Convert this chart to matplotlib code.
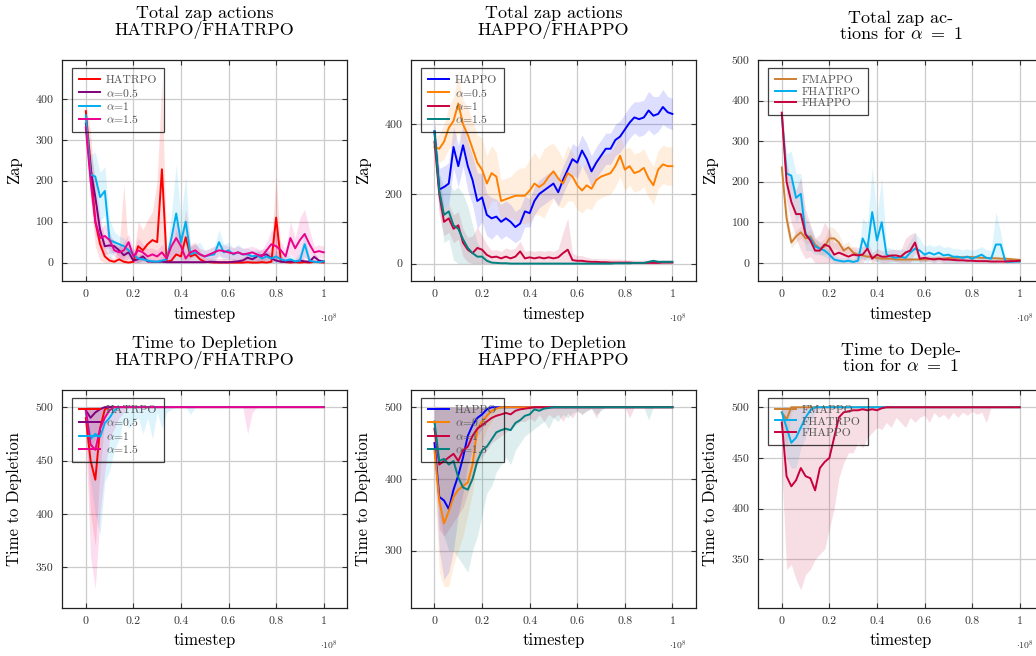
import matplotlib
matplotlib.use('Agg')
import matplotlib.pyplot as plt
import numpy as np

plt.rcParams['font.family'] = ['cmr10', 'DejaVu Serif']
plt.rcParams['mathtext.fontset'] = 'cm'
plt.rcParams['axes.formatter.use_mathtext'] = True

# timestep grid (x 1e8)
steps = np.round(np.arange(0, 1.0001, 0.02), 2)

# ---- total zap actions, HATRPO / FHATRPO ----
zap_hatrpo = [370, 240, 100, 45, 15, 5, 2, 8, 2, 0,
              2, 40, 30, 45, 55, 50, 228, 2, 5, 20,
              15, 62, 15, 20, 8, 2, 1, 0, 0, 0,
              0, 0, 0, 0, 1, 0, 0, 1, 0, 2,
              110, 3, 1, 0, 1, 0, 1, 0, 2, 1, 0]
zap_a05_trpo = [340, 230, 160, 80, 40, 42, 40, 30, 18, 25,
                5, 8, 15, 3, 2, 2, 2, 1, 1, 1,
                1, 1, 1, 1, 1, 1, 2, 2, 1, 1,
                1, 2, 3, 5, 12, 8, 15, 18, 20, 10,
                5, 2, 2, 3, 2, 5, 3, 2, 14, 5, 3]
zap_a1_trpo = [360, 215, 210, 160, 175, 55, 50, 45, 40, 30,
               20, 10, 8, 5, 3, 2, 5, 8, 60, 120,
               50, 100, 20, 25, 20, 15, 18, 20, 50, 25,
               30, 20, 25, 20, 20, 15, 18, 10, 15, 10,
               15, 8, 5, 8, 3, 5, 45, 5, 2, 1, 3]
zap_a15_trpo = [330, 200, 100, 60, 65, 55, 30, 25, 30, 50,
                15, 30, 25, 15, 20, 15, 25, 10, 40, 60,
                40, 10, 25, 30, 20, 15, 20, 25, 30, 28,
                25, 22, 25, 20, 22, 25, 20, 15, 30, 45,
                40, 30, 15, 60, 35, 55, 70, 45, 25, 28, 25]
sd_hatrpo = [20, 80, 60, 40, 20, 10, 8, 30, 190, 20,
             10, 60, 50, 60, 70, 150, 220, 20, 30, 60,
             40, 70, 30, 30, 20, 10, 10, 10, 10, 10,
             10, 10, 10, 10, 10, 10, 10, 10, 10, 40,
             105, 20, 5, 5, 5, 5, 5, 5, 5, 5, 5]
sd_a05_trpo = [20, 40, 50, 30, 20, 20, 15, 15, 15, 15,
               5, 8, 10, 3, 2, 2, 2, 2, 2, 2,
               2, 2, 2, 2, 2, 2, 3, 3, 2, 2,
               2, 3, 5, 8, 10, 10, 12, 15, 15, 10,
               8, 5, 5, 5, 5, 8, 5, 5, 10, 5, 5]
sd_a1_trpo = [20, 50, 60, 60, 60, 50, 25, 20, 20, 15,
              15, 10, 10, 8, 5, 5, 10, 20, 60, 120,
              60, 110, 20, 20, 30, 15, 15, 20, 30, 20,
              20, 15, 20, 15, 15, 15, 15, 10, 15, 10,
              15, 10, 10, 10, 8, 20, 30, 10, 5, 5, 5]
sd_a15_trpo = [20, 40, 30, 20, 30, 20, 15, 15, 20, 20,
               15, 30, 20, 20, 15, 15, 20, 15, 30, 40,
               30, 15, 15, 15, 15, 15, 15, 15, 15, 15,
               15, 15, 15, 15, 15, 15, 15, 15, 20, 35,
               30, 20, 15, 40, 25, 55, 60, 35, 15, 15, 15]

# ---- total zap actions, HAPPO / FHAPPO ----
zap_happo = [380, 213, 220, 230, 335, 280, 340, 280, 240, 180,
             190, 140, 130, 135, 120, 130, 120, 105, 115, 150,
             145, 180, 200, 210, 220, 230, 205, 240, 270, 300,
             290, 325, 300, 265, 290, 310, 330, 330, 355, 365,
             385, 405, 420, 415, 420, 440, 425, 430, 450, 435, 430]
zap_a05_ppo = [335, 330, 350, 390, 410, 460, 400, 370, 330, 290,
               270, 230, 260, 250, 180, 185, 190, 195, 195, 195,
               210, 230, 220, 230, 250, 265, 245, 230, 260, 250,
               225, 210, 225, 215, 240, 250, 255, 260, 280, 310,
               270, 280, 260, 265, 275, 245, 225, 270, 285, 280, 280]
zap_a1_ppo = [350, 200, 120, 130, 100, 110, 60, 40, 30, 45,
              40, 25, 18, 20, 15, 20, 15, 20, 35, 15,
              18, 15, 18, 15, 18, 15, 18, 30, 40, 10,
              8, 8, 6, 5, 5, 4, 4, 3, 3, 3,
              3, 3, 2, 2, 2, 2, 2, 2, 3, 3, 3]
zap_a15_ppo = [380, 210, 140, 150, 110, 100, 70, 45, 30, 20,
               20, 8, 3, 2, 1, 1, 0, 0, 0, 0,
               0, 0, 0, 0, 0, 0, 0, 0, 0, 0,
               0, 0, 0, 0, 0, 0, 0, 0, 1, 1,
               1, 1, 2, 2, 2, 5, 8, 5, 5, 5, 5]
sd_happo = [30, 60, 60, 60, 60, 60, 60, 70, 70, 80,
            70, 60, 60, 50, 50, 50, 50, 45, 45, 45,
            40, 40, 40, 40, 40, 40, 40, 40, 40, 45,
            45, 45, 45, 45, 45, 45, 45, 45, 45, 45,
            45, 45, 45, 50, 50, 55, 55, 50, 50, 45, 45]
sd_a05_ppo = [30, 40, 50, 60, 70, 80, 70, 80, 80, 80,
              90, 80, 80, 70, 60, 60, 60, 70, 80, 80,
              90, 90, 80, 100, 90, 80, 80, 70, 80, 70,
              70, 65, 65, 60, 60, 60, 60, 60, 60, 60,
              60, 55, 55, 55, 55, 55, 55, 55, 55, 55, 55]
sd_a1_ppo = [30, 60, 40, 40, 40, 40, 40, 35, 50, 60,
             40, 30, 20, 20, 20, 25, 25, 25, 30, 20,
             20, 20, 20, 20, 20, 20, 25, 60, 90, 20,
             15, 15, 12, 10, 10, 10, 10, 10, 10, 10,
             8, 8, 8, 8, 8, 8, 8, 8, 8, 8, 8]
sd_a15_ppo = [30, 50, 80, 80, 100, 120, 130, 120, 80, 40,
              20, 10, 3, 3, 3, 3, 3, 3, 3, 3,
              3, 3, 3, 3, 3, 3, 3, 3, 3, 3,
              3, 3, 3, 3, 3, 3, 3, 3, 3, 3,
              3, 3, 3, 3, 3, 5, 5, 5, 5, 5, 5]

# ---- total zap actions for alpha = 1 ----
zap_fmappo = [235, 110, 50, 65, 75, 60, 65, 45, 35, 40,
              60, 60, 50, 30, 38, 25, 20, 18, 15, 15,
              12, 10, 10, 10, 8, 8, 8, 8, 8, 8,
              8, 9, 10, 10, 10, 12, 12, 12, 14, 14,
              14, 13, 12, 12, 11, 11, 10, 10, 9, 8, 7]
zap_fhatrpo = [365, 220, 215, 160, 170, 70, 60, 40, 35, 30,
               20, 8, 5, 3, 5, 2, 5, 60, 35, 125,
               55, 100, 20, 15, 12, 15, 12, 25, 35, 30,
               20, 25, 20, 25, 18, 20, 15, 15, 12, 15,
               10, 15, 20, 12, 10, 45, 45, 3, 2, 3, 3]
zap_fhappo = [370, 200, 150, 120, 120, 70, 55, 30, 30, 45,
              40, 20, 25, 20, 15, 20, 18, 20, 35, 10,
              20, 15, 15, 18, 18, 15, 25, 30, 50, 10,
              12, 10, 8, 10, 8, 8, 7, 6, 6, 5,
              5, 4, 4, 4, 3, 3, 3, 3, 4, 4, 5]
sd_fmappo = [20, 30, 15, 15, 15, 15, 15, 15, 15, 20,
             30, 25, 20, 15, 15, 10, 10, 8, 8, 8,
             5, 5, 5, 5, 5, 5, 5, 5, 5, 5,
             5, 5, 5, 5, 5, 5, 5, 5, 5, 5,
             5, 5, 5, 5, 5, 5, 5, 5, 5, 5, 5]
sd_fhatrpo = [20, 50, 60, 60, 50, 40, 30, 20, 15, 15,
              10, 10, 8, 8, 8, 8, 10, 50, 60, 110,
              60, 110, 20, 20, 20, 20, 20, 30, 40, 30,
              20, 20, 20, 20, 20, 20, 20, 20, 20, 20,
              20, 20, 20, 20, 20, 80, 30, 5, 5, 5, 5]
sd_fhappo = [20, 50, 50, 60, 90, 60, 40, 30, 40, 55,
             40, 30, 25, 20, 20, 20, 20, 20, 20, 15,
             15, 15, 15, 15, 15, 15, 35, 40, 25, 10,
             8, 8, 8, 8, 8, 8, 8, 8, 8, 8,
             5, 5, 5, 5, 5, 5, 5, 5, 5, 5, 5]

# ---- time to depletion, HATRPO / FHATRPO ----
dep_hatrpo = [490, 450, 432, 480, 498] + [500] * 46
dep_a05_trpo = [497, 490, 495, 498] + [500] * 47
dep_a1_trpo = [495, 470, 475, 472, 485, 490, 497] + [500] * 44
dep_a15_trpo = [498, 465, 460, 480, 490, 497] + [500] * 45
lo_hatrpo = [480, 400, 370, 440, 490] + [500] * 46
lo_a05_trpo = [490, 460, 470, 480, 495] + [500] * 46
lo_a1_trpo = [480, 430, 400, 380, 430, 440, 460, 470, 490, 480,
              485, 490, 475, 490, 470, 495, 480, 495, 498, 500,
              500, 500, 493] + [500] * 28
lo_a15_trpo = [470, 360, 330, 400, 440, 470, 480, 490, 495] + [500] * 25 + [475, 495] + [500] * 15

# ---- time to depletion, HAPPO / FHAPPO ----
dep_happo = [450, 375, 370, 358, 385, 405, 430, 460, 475, 485, 490, 497] + [500] * 39
dep_a05_ppo = [440, 370, 338, 355, 375, 385, 390, 395, 420, 470, 480, 488, 495, 498] + [500] * 37
dep_a1_ppo = [470, 420, 425, 430, 435, 425, 440, 445, 460, 470,
              475, 480, 485, 488, 490, 492, 490, 495, 497, 498, 499] + [500] * 30
dep_a15_ppo = [480, 425, 428, 420, 425, 402, 388, 385, 400, 425,
               440, 445, 455, 465, 468, 470, 468, 478, 482, 488,
               490, 497, 495, 498, 499] + [500] * 26
lo_happo = [420, 300, 260, 270, 300, 350, 380, 420, 440, 460, 470, 485, 495] + [500] * 38
lo_a05_ppo = [400, 270, 250, 250, 280, 300, 320, 350, 380, 430, 450, 470, 480, 490, 495, 498] + [500] * 35
lo_a1_ppo = [440, 330, 320, 330, 340, 350, 360, 380, 400, 420,
             430, 440, 450, 455, 460, 465, 470, 475, 480, 480,
             485, 480, 490, 480, 490, 485, 490, 480, 492, 485,
             495, 490, 495, 498, 485, 498, 500, 500, 500, 500,
             500, 485, 500, 500, 500, 500, 500, 500, 500, 500, 500]
lo_a15_ppo = [460, 350, 320, 300, 300, 290, 280, 270, 300, 320,
              350, 380, 390, 410, 420, 430, 420, 440, 450, 460,
              465, 470, 475, 480, 470, 485, 480, 490, 485, 492,
              495, 490, 495, 498, 490, 495, 500, 500, 500, 500,
              500, 500, 500, 500, 500, 482, 500, 500, 500, 500, 500]

# ---- time to depletion for alpha = 1 ----
dep_fmappo = [495, 488] + [500] * 49
dep_fhatrpo = [495, 480, 465, 470, 480, 490, 497] + [500] * 44
dep_fhappo = [485, 432, 422, 428, 440, 432, 430, 418, 440, 446,
              450, 470, 490, 495, 496, 497, 497, 498, 497, 498,
              497, 499] + [500] * 29
lo_fmappo = [480, 460, 495] + [500] * 48
lo_fhatrpo = [480, 450, 440, 440, 460, 470, 485, 495] + [500] * 43
lo_fhappo = [440, 340, 345, 330, 320, 335, 340, 350, 355, 360,
             380, 400, 430, 445, 455, 455, 465, 460, 470, 475,
             480, 478, 485, 480, 490, 485, 480, 490, 485, 490,
             492, 485, 495, 490, 493, 488, 495, 490, 495, 492,
             496, 493, 495, 485, 500, 500, 500, 500, 500, 500, 500]

C_RED = '#ff0000'
C_PURPLE = '#800080'
C_CYAN = '#00aeef'
C_MAGENTA = '#ec008c'
C_BLUE = '#0000ff'
C_ORANGE = '#ff8000'
C_CRIMSON = '#c8003c'
C_TEAL = '#008080'
C_BRONZE = '#cd7f32'

fig = plt.figure(figsize=(10.36, 6.56), dpi=100)
W, H = 1036.0, 656.0


def make_axes(left_px, top_px, w_px, h_px):
    return fig.add_axes([left_px / W, 1 - (top_px + h_px) / H, w_px / W, h_px / H])


def draw_panel(ax, series, ylim, yticks, title, ylabel, title_off=21):
    x = steps
    for mean, lo, hi, color, label in series:
        ax.fill_between(x, lo, hi, color=color, alpha=0.13, lw=0)
    for mean, lo, hi, color, label in series:
        ax.plot(x, mean, color=color, lw=1.4, label=label)
    ax.set_xlim(-0.1, 1.1)
    ax.set_ylim(*ylim)
    ax.set_xticks([0, 0.2, 0.4, 0.6, 0.8, 1])
    ax.set_xticklabels(['0', '0.2', '0.4', '0.6', '0.8', '1'])
    ax.set_yticks(yticks)
    ax.set_yticklabels([str(t) for t in yticks])
    ax.grid(True, color='#cccccc', lw=0.9)
    ax.set_axisbelow(True)
    ax.tick_params(direction='in', length=3.5, width=0.8, top=True, right=True,
                   labelsize=8.5, labelcolor='#333333', color='#333333', pad=6)
    for sp in ax.spines.values():
        sp.set_linewidth(0.9)
        sp.set_color('#222222')
    ax.set_xlabel('timestep', fontsize=12)
    ax.xaxis.set_label_coords(0.5, -0.115)
    ax.set_ylabel(ylabel, fontsize=12)
    ax.yaxis.set_label_coords(-0.14, 0.5)
    ax.text(0.5, 1 + title_off / 221.0, title, transform=ax.transAxes,
            ha='center', va='bottom', fontsize=13, linespacing=1.0)
    ax.text(0.935, -0.17, r'$\cdot 10^8$', transform=ax.transAxes,
            ha='center', va='center', fontsize=7, color='#333333')
    leg = ax.legend(loc='upper left', bbox_to_anchor=(0.035, 0.964), borderaxespad=0,
                    fontsize=8.4, frameon=True, fancybox=False, facecolor='none',
                    edgecolor='#111111', handlelength=1.8, labelspacing=0.12,
                    borderpad=0.6, handletextpad=0.5)
    leg.get_frame().set_linewidth(0.9)
    for t in leg.get_texts():
        t.set_color('#555555')


def band(mean, sd):
    m = np.array(mean, float)
    s = np.array(sd, float)
    return m, np.clip(m - s, 0, None), m + s


def dep_band(mean, lo):
    return np.array(mean, float), np.array(lo, float), np.full(len(mean), 500.0)


top_row, bot_row = 60, 390
lefts = [62, 410.7, 758]
aw = 285.5

# top row
ax1 = make_axes(lefts[0], top_row, aw, 221)
draw_panel(ax1, [
    (*band(zap_hatrpo, sd_hatrpo), C_RED, 'HATRPO'),
    (*band(zap_a05_trpo, sd_a05_trpo), C_PURPLE, r'$\alpha$=0.5'),
    (*band(zap_a1_trpo, sd_a1_trpo), C_CYAN, r'$\alpha$=1'),
    (*band(zap_a15_trpo, sd_a15_trpo), C_MAGENTA, r'$\alpha$=1.5'),
], (-45, 495), [0, 100, 200, 300, 400], 'Total zap actions\nHATRPO/FHATRPO', 'Zap')

ax2 = make_axes(lefts[1], top_row, aw, 221)
draw_panel(ax2, [
    (*band(zap_happo, sd_happo), C_BLUE, 'HAPPO'),
    (*band(zap_a05_ppo, sd_a05_ppo), C_ORANGE, r'$\alpha$=0.5'),
    (*band(zap_a1_ppo, sd_a1_ppo), C_CRIMSON, r'$\alpha$=1'),
    (*band(zap_a15_ppo, sd_a15_ppo), C_TEAL, r'$\alpha$=1.5'),
], (-50, 585), [0, 200, 400], 'Total zap actions\nHAPPO/FHAPPO', 'Zap')

ax3 = make_axes(lefts[2], top_row, aw, 221)
draw_panel(ax3, [
    (*band(zap_fmappo, sd_fmappo), C_BRONZE, 'FMAPPO'),
    (*band(zap_fhatrpo, sd_fhatrpo), C_CYAN, 'FHATRPO'),
    (*band(zap_fhappo, sd_fhappo), C_CRIMSON, 'FHAPPO'),
], (-45, 500), [0, 100, 200, 300, 400, 500], 'Total zap ac-\n' + r'tions for $\alpha\ =\ 1$', 'Zap',
    title_off=18)

# bottom row
ax4 = make_axes(lefts[0], bot_row, aw, 218)
draw_panel(ax4, [
    (*dep_band(dep_hatrpo, lo_hatrpo), C_RED, 'HATRPO'),
    (*dep_band(dep_a05_trpo, lo_a05_trpo), C_PURPLE, r'$\alpha$=0.5'),
    (*dep_band(dep_a1_trpo, lo_a1_trpo), C_CYAN, r'$\alpha$=1'),
    (*dep_band(dep_a15_trpo, lo_a15_trpo), C_MAGENTA, r'$\alpha$=1.5'),
], (312, 516), [350, 400, 450, 500], 'Time to Depletion\nHATRPO/FHATRPO', 'Time to Depletion')

ax5 = make_axes(lefts[1], bot_row, aw, 218)
draw_panel(ax5, [
    (*dep_band(dep_happo, lo_happo), C_BLUE, 'HAPPO'),
    (*dep_band(dep_a05_ppo, lo_a05_ppo), C_ORANGE, r'$\alpha$=0.5'),
    (*dep_band(dep_a1_ppo, lo_a1_ppo), C_CRIMSON, r'$\alpha$=1'),
    (*dep_band(dep_a15_ppo, lo_a15_ppo), C_TEAL, r'$\alpha$=1.5'),
], (220, 524), [300, 400, 500], 'Time to Depletion\nHAPPO/FHAPPO', 'Time to Depletion')

ax6 = make_axes(lefts[2], bot_row, aw, 218)
draw_panel(ax6, [
    (*dep_band(dep_fmappo, lo_fmappo), C_BRONZE, 'FMAPPO'),
    (*dep_band(dep_fhatrpo, lo_fhatrpo), C_CYAN, 'FHATRPO'),
    (*dep_band(dep_fhappo, lo_fhappo), C_CRIMSON, 'FHAPPO'),
], (302, 517), [350, 400, 450, 500], 'Time to Deple-\n' + r'tion for $\alpha\ =\ 1$', 'Time to Depletion',
    title_off=16)

fig.savefig('out.png', dpi=100)
